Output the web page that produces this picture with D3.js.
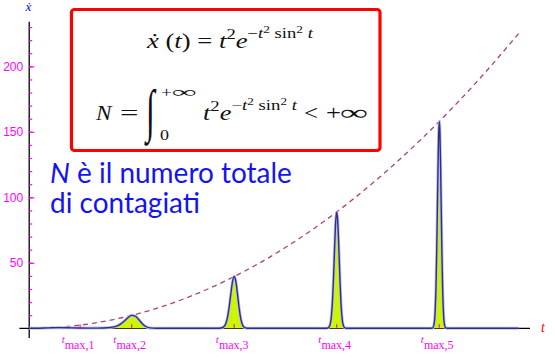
<!DOCTYPE html>
<html>
<head>
<meta charset="utf-8">
<script src="https://cdn.jsdelivr.net/npm/d3@7"></script>
<style>
  body { margin: 0; background: #fff; }
  svg { display: block; }
</style>
</head>
<body>
<svg id="drawing_region"></svg>
<script>
// values: t and x'(t)
const curve_t = [0, 0.3, 0.6, 0.9, 1.2, 1.5, 1.8, 2.1, 2.4, 2.6, 2.7, 2.8, 2.95, 3.0, 3.05, 3.14, 3.25, 3.3, 3.4, 3.5, 3.55, 3.7, 3.9, 4.2,
    5.78, 5.88, 5.98, 6.03, 6.08, 6.13, 6.18, 6.23, 6.28, 6.33, 6.38, 6.43, 6.48, 6.53, 6.58, 6.68, 6.78,
    9.125, 9.175, 9.225, 9.265, 9.295, 9.325, 9.365, 9.395, 9.425, 9.455, 9.485, 9.525, 9.555, 9.585, 9.625, 9.675, 9.725,
    12.27, 12.37, 12.41, 12.44, 12.47, 12.49, 12.51, 12.53, 12.55, 12.57, 12.59, 12.61, 12.63, 12.65, 12.67, 12.70, 12.73, 12.77, 12.87,
    15.0];
const curve_v = [0, 0.09, 0.32, 0.49, 0.41, 0.24, 0.15, 0.16, 0.42, 1.12, 1.92, 3.25, 6.35, 7.52, 8.61, 9.87, 9.33, 8.30, 5.43, 2.71, 1.73, 0.29, 0.01, 0,
    0, 0.18, 1.57, 3.92, 8.58, 16.3, 26.1, 35.3, 39.5, 36.3, 27.1, 16.4, 8.0, 3.13, 0.98, 0.05, 0,
    0, 0.49, 2.96, 9.73, 20.2, 36.5, 64.0, 81.5, 88.8, 82.5, 65.1, 36.7, 19.7, 8.93, 2.39, 0.3, 0,
    0, 0.36, 3.10, 11.5, 33.0, 57.6, 89.1, 122.1, 147.8, 157.9, 148.7, 123.2, 89.9, 57.6, 32.4, 10.75, 2.66, 0.26, 0,
    0];

// envelope t^2 (dashed)
const env_t = [0, 1, 2, 3, 4, 5, 6, 7, 8, 9, 10, 11, 12, 13, 14, 15];
const env_v = [0, 1, 4, 9, 16, 25, 36, 49, 64, 81, 100, 121, 144, 169, 196, 225];

const ytick_major = [50, 100, 150, 200];
const ytick_minor = d3.range(10, 231, 10);
const tmax_t = [1.56, Math.PI, 2 * Math.PI, 3 * Math.PI, 4 * Math.PI];
const tmax_sub = ['max,1', 'max,2', 'max,3', 'max,4', 'max,5'];

const config = {
    width: 555,
    height: 363,
    left: 29.2,
    right: 530,
    top: 21.8,
    bottom: 328.3
};

const svg = d3.select('#drawing_region')
    .attr('width', config.width)
    .attr('height', config.height);

const xscale = d3.scaleLinear()
    .domain([0, 15.35])
    .range([config.left, config.right]);

const yscale = d3.scaleLinear()
    .domain([0, 234])
    .range([config.bottom, config.top]);

const magenta = '#ff00ff';
const serif = '"Liberation Serif", "Times New Roman", serif';

// axes lines
svg.append('line')
    .attr('x1', xscale(-0.3)).attr('x2', xscale(15.35))
    .attr('y1', yscale(0)).attr('y2', yscale(0))
    .attr('stroke', '#000').attr('stroke-width', 1.3);
svg.append('line')
    .attr('x1', xscale(0)).attr('x2', xscale(0))
    .attr('y1', yscale(-7.5)).attr('y2', yscale(234))
    .attr('stroke', '#000').attr('stroke-width', 1.3);

// y ticks
const yminor = svg.append('g')
    .attr('transform', `translate(${xscale(0)},0)`)
    .call(d3.axisLeft(yscale).tickValues(ytick_minor).tickSize(-3).tickFormat(''));
const ymajor = svg.append('g')
    .attr('transform', `translate(${xscale(0)},0)`)
    .call(d3.axisLeft(yscale).tickValues(ytick_major).tickSize(-5).tickPadding(6));
[yminor, ymajor].forEach(g => {
    g.select('.domain').remove();
    g.selectAll('line').attr('stroke', magenta).attr('stroke-width', 1.2);
});
ymajor.selectAll('text')
    .attr('fill', magenta)
    .style('font-family', '"Liberation Sans", Arial, sans-serif')
    .style('font-size', '12px');

const pts = d3.zip(curve_t, curve_v);
const env = d3.zip(env_t, env_v);

// filled area under x'(t)
svg.append('path')
    .datum(pts)
    .attr('fill', '#ccf500')
    .attr('d', d3.area()
        .x(d => xscale(d[0]))
        .y0(yscale(0))
        .y1(d => yscale(d[1]))
        .curve(d3.curveMonotoneX));

// envelope
svg.append('path')
    .datum(env)
    .attr('fill', 'none')
    .attr('stroke', '#a8457a')
    .attr('stroke-width', 1.3)
    .attr('stroke-dasharray', '5,4')
    .attr('d', d3.line()
        .x(d => xscale(d[0]))
        .y(d => yscale(d[1]))
        .curve(d3.curveNatural));

const line = d3.line()
    .x(d => xscale(d[0]))
    .y(d => yscale(d[1]))
    .curve(d3.curveMonotoneX);

svg.append('path')
    .datum(pts)
    .attr('fill', 'none')
    .attr('stroke', '#bcc0e0')
    .attr('stroke-width', 3)
    .attr('stroke-linejoin', 'round')
    .attr('d', line);
svg.append('path')
    .datum(pts)
    .attr('fill', 'none')
    .attr('stroke', '#2e2e8e')
    .attr('stroke-width', 1.4)
    .attr('stroke-linejoin', 'round')
    .attr('d', line);

// x ticks (t_max)
svg.selectAll('.xtick').data(tmax_t)
    .join('line')
    .attr('class', 'xtick')
    .attr('x1', d => xscale(d)).attr('x2', d => xscale(d))
    .attr('y1', yscale(0) - 0.5).attr('y2', yscale(0) - 4)
    .attr('stroke', magenta).attr('stroke-width', 1.2);

const xlabels = svg.selectAll('.xlabel').data(tmax_t)
    .join('text')
    .attr('class', 'xlabel')
    .attr('x', d => xscale(d) - 2)
    .attr('y', 349)
    .attr('text-anchor', 'middle')
    .attr('fill', magenta)
    .style('font-family', serif);
xlabels.append('tspan')
    .attr('dy', -6)
    .style('font-style', 'italic')
    .style('font-size', '11px')
    .text('t');
xlabels.append('tspan')
    .attr('dy', 6)
    .style('font-size', '12px')
    .text((d, i) => tmax_sub[i]);

// axis titles
svg.append('text')
    .attr('x', 28.5).attr('y', 11)
    .attr('text-anchor', 'middle')
    .attr('fill', '#0000ff')
    .style('font-family', serif)
    .style('font-style', 'italic')
    .style('font-size', '13px')
    .text('ẋ');
svg.append('text')
    .attr('x', 543).attr('y', 332)
    .attr('text-anchor', 'middle')
    .attr('fill', '#ff0000')
    .style('font-family', serif)
    .style('font-style', 'italic')
    .style('font-size', '14px')
    .text('t');

// formula box
svg.append('rect')
    .attr('x', 71.5).attr('y', 9.5)
    .attr('width', 308.5).attr('height', 141)
    .attr('rx', 3)
    .attr('fill', '#fff')
    .attr('stroke', '#ff0000')
    .attr('stroke-width', 3.2);

// t^2 e^{-t^2 sin^2 t}
function buildPower(sel, e, s) {
    sel.append('tspan').style('font-style', 'italic').text('t');
    sel.append('tspan').attr('dy', -9).style('font-size', e + 'px').text('2');
    sel.append('tspan').attr('dy', 9).style('font-style', 'italic').text('e');
    sel.append('tspan').attr('dy', -10).style('font-size', e + 'px').text('−');
    sel.append('tspan').style('font-size', e + 'px').style('font-style', 'italic').text('t');
    sel.append('tspan').attr('dy', -5).style('font-size', s + 'px').text('2');
    sel.append('tspan').attr('dy', 5).style('font-size', e + 'px').text(' sin');
    sel.append('tspan').attr('dy', -5).style('font-size', s + 'px').text('2');
    sel.append('tspan').attr('dy', 5).style('font-size', e + 'px').text(' ');
    sel.append('tspan').style('font-size', e + 'px').style('font-style', 'italic').text('t');
}

// text at (x, y), stretched horizontally to the given width
function mathText(x, y, size, width) {
    const t = svg.append('text')
        .attr('fill', '#111')
        .style('font-family', serif)
        .style('font-size', size + 'px')
        .attr('transform', `translate(${x},${y})`);
    t.fit = () => {
        const sx = width / t.node().getComputedTextLength();
        t.attr('transform', `translate(${x},${y}) scale(${sx},1)`);
        return t;
    };
    return t;
}

// first formula
const f1 = mathText(147, 48, 20, 166);
f1.append('tspan').style('font-style', 'italic').text('ẋ');
f1.append('tspan').text(' (');
f1.append('tspan').style('font-style', 'italic').text('t');
f1.append('tspan').text(') = ');
buildPower(f1, 14, 10);
f1.fit();

// second formula
const f2y = 120;
mathText(96, f2y, 21, 15.5).style('font-style', 'italic').text('N').fit();
mathText(120, f2y, 21, 18.5).text('=').fit();
svg.append('text')
    .attr('transform', `translate(146, ${f2y + 10}) scale(0.8, 1.45)`)
    .style('font-family', serif)
    .style('font-size', '40px')
    .attr('fill', '#111')
    .text('∫');
mathText(161, 97, 15, 11).text('+').fit();
mathText(172, 97, 15, 25).text('∞').fit();
mathText(160, 140, 15, 9).text('0').fit();
const f2 = mathText(203, f2y, 21, 94);
buildPower(f2, 15, 10.5);
f2.fit();
mathText(304, f2y, 22, 14).text('<').fit();
mathText(326, f2y, 22, 15).text('+').fit();
mathText(340, f2y, 22, 28).text('∞').fit();

// blue note
const note = svg.append('g')
    .attr('fill', '#1414f0')
    .style('font-family', 'Lato, "Open Sans", sans-serif');
const l1 = note.append('text')
    .attr('x', 50).attr('y', 183)
    .style('font-size', '27px');
l1.append('tspan').style('font-style', 'italic').text('N');
l1.append('tspan').text(' è il numero totale');
const l2 = note.append('text')
    .attr('x', 50).attr('y', 213)
    .style('font-size', '27px')
    .text('di contagiati');
const w1 = l1.node().getComputedTextLength();
const fs = 27 * 242 / w1;
l1.style('font-size', fs + 'px');
l2.style('font-size', fs + 'px');
</script>
</body>
</html>
